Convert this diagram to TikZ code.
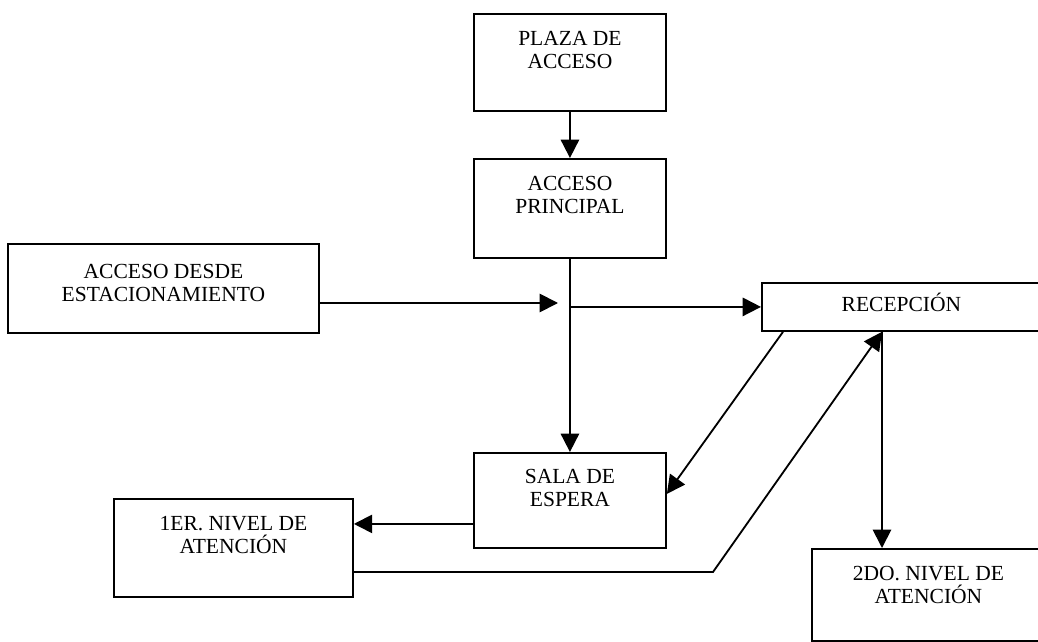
\documentclass[tikz,border=0pt]{standalone}
\usepackage{fontspec}
\setmainfont{Liberation Serif}
\usetikzlibrary{arrows.meta,calc,positioning}

\tikzset{
	caja/.style={draw, line width=1.3pt, inner sep=0pt, anchor=north west},
	rotulo/.style={align=center, inner sep=0pt, anchor=north, font=\fontsize{15.3}{16.3}\selectfont},
	flecha/.style={line width=1.3pt, -{Triangle[length=13pt, width=13pt]}},
}

\begin{document}
\begin{tikzpicture}[x=0.025cm, y=-0.025cm]
			%%%%% START %%%%%
			\useasboundingbox (0, 0) rectangle (1038, 642);
			
			\node[caja, minimum width=4.8cm, minimum height=2.425cm] (plaza) at (473, 13) {};
			\node[rotulo, below=4.4mm of plaza.north] (plazatxt) {PLAZA DE\\ACCESO};
			
			\node[caja, minimum width=4.8cm, minimum height=2.475cm] (principal) at (473, 158) {};
			\node[rotulo, below=4.4mm of principal.north] (principaltxt) {ACCESO\\PRINCIPAL};
			
			\node[caja, minimum width=7.775cm, minimum height=2.225cm] (estac) at (7, 243) {};
			\node[rotulo, below=5.2mm of estac.north] (estactxt) {ACCESO DESDE\\ESTACIONAMIENTO};
			
			\node[caja, minimum width=6.975cm, minimum height=1.2cm] (recepcion) at (761, 282) {};
			\node[rotulo, anchor=base] (recepciontxt) at ($(recepcion.center)+(0, 5)$) {RECEPCIÓN};
			
			\node[caja, minimum width=4.8cm, minimum height=2.375cm] (sala) at (473, 452) {};
			\node[rotulo, below=4.3mm of sala.north] (salatxt) {SALA DE\\ESPERA};
			
			\node[caja, minimum width=5.975cm, minimum height=2.45cm] (primer) at (113, 498) {};
			\node[rotulo, below=4.4mm of primer.north] (primertxt) {1ER. NIVEL DE\\ATENCIÓN};
			
			\node[caja, minimum width=5.825cm, minimum height=2.3cm] (segundo) at (811, 548) {};
			\node[rotulo, below=4.4mm of segundo.north] (segundotxt) {2DO. NIVEL DE\\ATENCIÓN};
			
			% puntos de paso
			\coordinate (llegada) at (558, 303);
			\coordinate (bajada) at ($(recepcion.south west)+(121, 0)$);
			\coordinate (quiebre) at (713, 572);
			\coordinate (salida) at ($(sala.west)+(0, 23.5)$);
			
			\draw[flecha] (plaza.south) -- (principal.north);
			\draw[flecha] (principal.south) -- (sala.north);
			\draw[flecha] (estac.east |- llegada) -- (llegada);
			\draw[flecha] (principal.south |- recepcion.west) -- (recepcion.west);
			
			\draw[flecha] ($(recepcion.south west)+(22, 0)$) -- ($(sala.east)+(0, -6.5)$);
			\draw[flecha] (bajada) -- (bajada |- segundo.north);
			\draw[flecha] (primer.east |- quiebre) -- (quiebre) -- (bajada);
			\draw[flecha] (salida) -- (salida -| primer.east);
			
			%%%%% END %%%%%
\end{tikzpicture}
\end{document}
